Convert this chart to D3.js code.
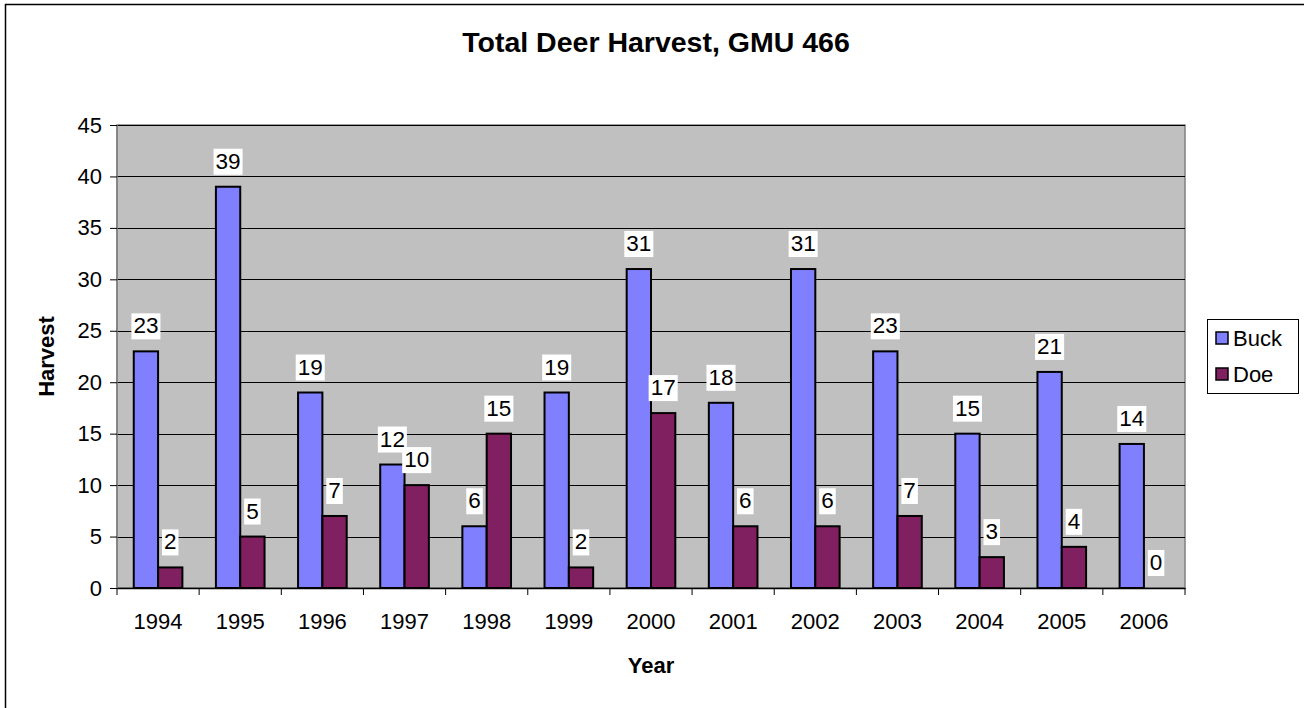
<!DOCTYPE html>
<html>
<head>
<meta charset="utf-8">
<script src="https://cdn.jsdelivr.net/npm/d3@7"></script>
<style>
  body { margin: 0; background: #fff; }
  svg { display: block; font-family: Arial, "Liberation Sans", sans-serif; }
</style>
</head>
<body>
<script>
var years = ["1994","1995","1996","1997","1998","1999","2000","2001","2002","2003","2004","2005","2006"];
var buck = [23, 39, 19, 12, 6, 19, 31, 18, 31, 23, 15, 21, 14];
var doe  = [2, 5, 7, 10, 15, 2, 17, 6, 6, 7, 3, 4, 0];
var seriesNames = ["Buck", "Doe"];
var seriesColors = ["#8080ff", "#802060"];
var yTicks = [0, 5, 10, 15, 20, 25, 30, 35, 40, 45];

var W = 1304, H = 708;
var margin = { top: 125, right: 119, bottom: 120, left: 117 },
    width = W - margin.left - margin.right,   // ~1068
    height = H - margin.top - margin.bottom;  // ~463

var svg = d3.select("body").append("svg")
    .attr("width", W)
    .attr("height", H);

// outer chart border
svg.append("rect")
    .attr("x", 5.5).attr("y", 4.5)
    .attr("width", W + 10).attr("height", H + 10)
    .attr("fill", "none")
    .attr("stroke", "#000")
    .attr("stroke-width", 1.5);

svg.append("text")
    .attr("x", 656).attr("y", 52)
    .attr("text-anchor", "middle")
    .style("font-size", "28.5px")
    .style("font-weight", "bold")
    .text("Total Deer Harvest, GMU 466");

var g = svg.append("g")
    .attr("transform", "translate(" + margin.left + "," + margin.top + ")");

var x = d3.scaleBand().domain(years).range([0, width]).paddingInner(0).paddingOuter(0);
var barW = x.bandwidth() * 0.296;
var x1 = d3.scaleBand().domain(seriesNames).range([x.bandwidth() / 2 - barW, x.bandwidth() / 2 + barW]);

var y = d3.scaleLinear().domain([0, 45]).range([height, 0]);

// plot background
g.append("rect")
    .attr("width", width).attr("height", height)
    .attr("fill", "#c0c0c0")
    .attr("stroke", "#808080")
    .attr("stroke-width", 1.5);

// gridlines
g.append("g").selectAll("line")
    .data(yTicks.filter(function(d) { return d > 0; }))
  .enter().append("line")
    .attr("x1", 0).attr("x2", width)
    .attr("y1", function(d) { return Math.round(y(d)) + 0.5; })
    .attr("y2", function(d) { return Math.round(y(d)) + 0.5; })
    .attr("stroke", "#000")
    .attr("stroke-width", 1);

// y axis
var yAxis = d3.axisLeft(y).tickValues(yTicks).tickSize(7).tickPadding(8);
var yg = g.append("g").call(yAxis);
yg.select(".domain").attr("stroke", "#808080").attr("stroke-width", 1.5).attr("d", "M0," + height + "V0");
yg.selectAll(".tick line").attr("stroke", "#000");
yg.selectAll(".tick text").style("font-size", "22px").style("font-family", "Arial, 'Liberation Sans', sans-serif").attr("fill", "#000");

// x axis
var xAxis = d3.axisBottom(x).tickSize(0).tickPadding(25);
var xg = g.append("g").attr("transform", "translate(0," + height + ")").call(xAxis);
xg.select(".domain").attr("stroke", "#000").attr("stroke-width", 1.5);
xg.selectAll(".tick text").style("font-size", "22px").style("font-family", "Arial, 'Liberation Sans', sans-serif").attr("fill", "#000");
// category boundary ticks
xg.selectAll(".bound")
    .data(years.concat(["end"]))
  .enter().append("line")
    .attr("class", "bound")
    .attr("x1", function(d, i) { return i < years.length ? x(d) : width; })
    .attr("x2", function(d, i) { return i < years.length ? x(d) : width; })
    .attr("y1", 0).attr("y2", 7)
    .attr("stroke", "#000").attr("stroke-width", 1);

// bars
var data = [];
years.forEach(function(yr, i) {
  data.push({ year: yr, s: "Buck", v: buck[i] });
  data.push({ year: yr, s: "Doe", v: doe[i] });
});

g.append("g").selectAll("rect")
    .data(data.filter(function(d) { return d.v > 0; }))
  .enter().append("rect")
    .attr("x", function(d) { return x(d.year) + x1(d.s); })
    .attr("y", function(d) { return y(d.v); })
    .attr("width", x1.bandwidth())
    .attr("height", function(d) { return height - y(d.v); })
    .attr("fill", function(d) { return seriesColors[seriesNames.indexOf(d.s)]; })
    .attr("stroke", "#000")
    .attr("stroke-width", 2);

// value labels
var labels = g.append("g").selectAll("g.lbl")
    .data(data)
  .enter().append("g")
    .attr("class", "lbl")
    .attr("transform", function(d) {
      return "translate(" + (x(d.year) + x1(d.s) + x1.bandwidth() / 2) + "," + (y(d.v) - 18) + ")";
    });

labels.append("text")
    .attr("text-anchor", "middle")
    .style("font-size", "22.5px")
    .text(function(d) { return d.v; });

labels.each(function() {
  var t = d3.select(this).select("text");
  var b = t.node().getBBox();
  d3.select(this).insert("rect", "text")
    .attr("x", b.x - 2).attr("y", b.y)
    .attr("width", b.width + 4).attr("height", b.height + 1)
    .attr("fill", "#fff");
});

// axis titles
svg.append("text")
    .attr("transform", "translate(54," + (margin.top + height / 2) + ") rotate(-90)")
    .attr("text-anchor", "middle")
    .style("font-size", "22px")
    .style("font-weight", "bold")
    .text("Harvest");

svg.append("text")
    .attr("x", margin.left + width / 2).attr("y", 673)
    .attr("text-anchor", "middle")
    .style("font-size", "22px")
    .style("font-weight", "bold")
    .text("Year");

// legend
var legend = svg.append("g").attr("transform", "translate(1207,319)");
legend.append("rect")
    .attr("x", 0.5).attr("y", 0.5)
    .attr("width", 91).attr("height", 74)
    .attr("fill", "#fff").attr("stroke", "#000").attr("stroke-width", 1);

var li = legend.selectAll("g.item")
    .data(seriesNames)
  .enter().append("g")
    .attr("class", "item")
    .attr("transform", function(d, i) { return "translate(9," + (13 + i * 36) + ")"; });

li.append("rect")
    .attr("width", 12).attr("height", 12)
    .attr("fill", function(d, i) { return seriesColors[i]; })
    .attr("stroke", "#000").attr("stroke-width", 1.5);

li.append("text")
    .attr("x", 17).attr("y", 14)
    .style("font-size", "22px")
    .text(function(d) { return d; });
</script>
</body>
</html>
